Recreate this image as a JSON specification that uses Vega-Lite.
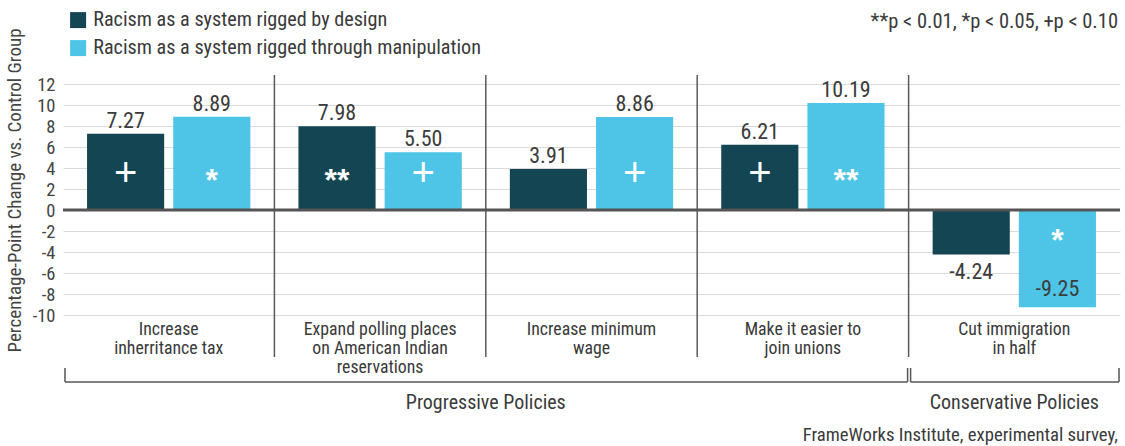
{
  "$schema": "https://vega.github.io/schema/vega-lite/v6.json",
  "width": 1057,
  "height": 231,
  "autosize": {"type": "none"},
  "padding": {"left": 63, "top": 84, "right": 5, "bottom": 131},
  "background": "white",
  "config": {"font": "Roboto Condensed, Liberation Sans Narrow, Roboto, sans-serif", "view": {"stroke": null}, "locale": {"number": {"decimal": ".", "thousands": ",", "grouping": [3], "currency": ["$", ""], "minus": "-"}}},
  "resolve": {"axis": {"x": "independent", "y": "independent"}},
  "datasets": {
    "bars": [
      {"policy": "Increase|inherritance tax", "series": "Racism as a system rigged by design", "value": 7.27, "sig": "+"},
      {"policy": "Increase|inherritance tax", "series": "Racism as a system rigged through manipulation", "value": 8.89, "sig": "*"},
      {"policy": "Expand polling places|on American Indian|reservations", "series": "Racism as a system rigged by design", "value": 7.98, "sig": "**"},
      {"policy": "Expand polling places|on American Indian|reservations", "series": "Racism as a system rigged through manipulation", "value": 5.50, "sig": "+"},
      {"policy": "Increase minimum|wage", "series": "Racism as a system rigged by design", "value": 3.91, "sig": ""},
      {"policy": "Increase minimum|wage", "series": "Racism as a system rigged through manipulation", "value": 8.86, "sig": "+"},
      {"policy": "Make it easier to|join unions", "series": "Racism as a system rigged by design", "value": 6.21, "sig": "+"},
      {"policy": "Make it easier to|join unions", "series": "Racism as a system rigged through manipulation", "value": 10.19, "sig": "**"},
      {"policy": "Cut immigration|in half", "series": "Racism as a system rigged by design", "value": -4.24, "sig": ""},
      {"policy": "Cut immigration|in half", "series": "Racism as a system rigged through manipulation", "value": -9.25, "sig": "*"}
    ],
    "seps": [
      {"policy": "Expand polling places|on American Indian|reservations"},
      {"policy": "Increase minimum|wage"},
      {"policy": "Make it easier to|join unions"},
      {"policy": "Cut immigration|in half"}
    ],
    "groups": [
      {"group": "Progressive Policies", "first": "Increase|inherritance tax", "last": "Make it easier to|join unions"},
      {"group": "Conservative Policies", "first": "Cut immigration|in half", "last": "Cut immigration|in half"}
    ],
    "notes": [
      {"policy": "Cut immigration|in half", "note": "**p < 0.01, *p < 0.05, +p < 0.10", "source": "FrameWorks Institute, experimental survey,"}
    ],
    "glabels": [
      {"policy": "Increase minimum|wage", "label": "Progressive Policies"}
    ],
    "glabels2": [
      {"policy": "Cut immigration|in half", "label": "Conservative Policies"}
    ]
  },
  "layer": [
    {
      "data": {"name": "seps"},
      "mark": {"type": "rule", "color": "#5a5a5a", "strokeWidth": 1.5},
      "encoding": {
        "x": {"field": "policy", "type": "nominal", "bandPosition": 0, "scale": {"domain": ["Increase|inherritance tax", "Expand polling places|on American Indian|reservations", "Increase minimum|wage", "Make it easier to|join unions", "Cut immigration|in half"], "paddingInner": 0, "paddingOuter": 0}, "axis": null},
        "y": {"datum": 12.86, "type": "quantitative", "scale": {"domain": [-10, 12], "nice": false}, "axis": null},
        "y2": {"datum": -14}
      }
    },
    {
      "data": {"name": "bars"},
      "mark": {"type": "bar"},
      "encoding": {
        "x": {"field": "policy", "type": "nominal", "scale": {"domain": ["Increase|inherritance tax", "Expand polling places|on American Indian|reservations", "Increase minimum|wage", "Make it easier to|join unions", "Cut immigration|in half"], "paddingInner": 0, "paddingOuter": 0},
          "axis": {"orient": "bottom", "labelExpr": "split(datum.label, '|')", "labelAngle": 0, "labelFontSize": 17.8, "labelLineHeight": 19, "labelColor": "#3a3a3a", "ticks": false, "domain": false, "title": null, "labelPadding": 5, "labelBaseline": "top", "grid": false, "labelLimit": 0}},
        "xOffset": {"field": "series", "type": "nominal", "scale": {"paddingInner": 0.105, "paddingOuter": 0.279}},
        "y": {"field": "value", "type": "quantitative", "stack": null, "scale": {"domain": [-10, 12], "nice": false},
          "axis": {"values": [-10, -8, -6, -4, -2, 0, 2, 4, 6, 8, 10, 12], "labelFontSize": 18.5, "labelColor": "#444444", "ticks": false, "domain": false, "grid": true, "gridColor": "#dadada", "gridWidth": 1, "labelPadding": 8, "title": "Percentage-Point Change vs. Control Group", "titleFontSize": 19, "titleFontWeight": "normal", "titleColor": "#444444", "titlePadding": 8, "titleY": 106}},
        "color": {"field": "series", "type": "nominal",
          "scale": {"domain": ["Racism as a system rigged by design", "Racism as a system rigged through manipulation"], "range": ["#134552", "#4ec4e6"]},
          "legend": {"orient": "none", "legendX": 5, "legendY": -74, "title": null, "symbolType": "square", "symbolSize": 256, "symbolStrokeWidth": 0, "labelFontSize": 20.2, "labelColor": "#3a3a3a", "labelOffset": 5, "rowPadding": 7, "labelLimit": 0}}
      }
    },
    {
      "data": {"values": [{}]},
      "mark": {"type": "rule", "color": "#555555", "strokeWidth": 3},
      "encoding": {
        "y": {"datum": 0, "type": "quantitative", "scale": {"domain": [-10, 12], "nice": false}, "axis": null}
      }
    },
    {
      "data": {"name": "bars"},
      "transform": [{"filter": "datum.value > 0"}],
      "mark": {"type": "text", "fontSize": 22, "color": "#3c3c3c", "baseline": "alphabetic", "dy": -6},
      "encoding": {
        "x": {"field": "policy", "type": "nominal", "scale": {"domain": ["Increase|inherritance tax", "Expand polling places|on American Indian|reservations", "Increase minimum|wage", "Make it easier to|join unions", "Cut immigration|in half"], "paddingInner": 0, "paddingOuter": 0}, "axis": null},
        "xOffset": {"field": "series", "type": "nominal", "scale": {"paddingInner": 0.105, "paddingOuter": 0.279}},
        "y": {"field": "value", "type": "quantitative", "stack": null, "scale": {"domain": [-10, 12], "nice": false}, "axis": null},
        "text": {"field": "value", "type": "quantitative", "format": ".2f"}
      }
    },
    {
      "data": {"name": "bars"},
      "transform": [{"filter": "datum.value < 0 && datum.value > -8"}],
      "mark": {"type": "text", "fontSize": 22, "color": "#3c3c3c", "baseline": "alphabetic", "dy": 24},
      "encoding": {
        "x": {"field": "policy", "type": "nominal", "scale": {"domain": ["Increase|inherritance tax", "Expand polling places|on American Indian|reservations", "Increase minimum|wage", "Make it easier to|join unions", "Cut immigration|in half"], "paddingInner": 0, "paddingOuter": 0}, "axis": null},
        "xOffset": {"field": "series", "type": "nominal", "scale": {"paddingInner": 0.105, "paddingOuter": 0.279}},
        "y": {"field": "value", "type": "quantitative", "stack": null, "scale": {"domain": [-10, 12], "nice": false}, "axis": null},
        "text": {"field": "value", "type": "quantitative", "format": ".2f"}
      }
    },
    {
      "data": {"name": "bars"},
      "transform": [{"filter": "datum.value < -8"}],
      "mark": {"type": "text", "fontSize": 22, "color": "#3c3c3c", "baseline": "alphabetic", "dy": -11},
      "encoding": {
        "x": {"field": "policy", "type": "nominal", "scale": {"domain": ["Increase|inherritance tax", "Expand polling places|on American Indian|reservations", "Increase minimum|wage", "Make it easier to|join unions", "Cut immigration|in half"], "paddingInner": 0, "paddingOuter": 0}, "axis": null},
        "xOffset": {"field": "series", "type": "nominal", "scale": {"paddingInner": 0.105, "paddingOuter": 0.279}},
        "y": {"field": "value", "type": "quantitative", "stack": null, "scale": {"domain": [-10, 12], "nice": false}, "axis": null},
        "text": {"field": "value", "type": "quantitative", "format": ".2f"}
      }
    },
    {
      "data": {"name": "bars"},
      "transform": [{"filter": "datum.sig == '+'"}],
      "mark": {"type": "text", "font": "Liberation Sans, Arial, sans-serif", "fontSize": 40, "color": "white", "baseline": "alphabetic", "dy": 14},
      "encoding": {
        "x": {"field": "policy", "type": "nominal", "scale": {"domain": ["Increase|inherritance tax", "Expand polling places|on American Indian|reservations", "Increase minimum|wage", "Make it easier to|join unions", "Cut immigration|in half"], "paddingInner": 0, "paddingOuter": 0}, "axis": null},
        "xOffset": {"field": "series", "type": "nominal", "scale": {"paddingInner": 0.105, "paddingOuter": 0.279}},
        "y": {"datum": 3.6, "type": "quantitative", "scale": {"domain": [-10, 12], "nice": false}, "axis": null},
        "text": {"field": "sig", "type": "nominal"}
      }
    },
    {
      "data": {"name": "bars"},
      "transform": [{"filter": "(datum.sig == '*' || datum.sig == '**') && datum.value > 0"}],
      "mark": {"type": "text", "font": "Liberation Sans, Arial, sans-serif", "fontSize": 32, "fontWeight": "bold", "color": "white", "baseline": "alphabetic", "dy": 19},
      "encoding": {
        "x": {"field": "policy", "type": "nominal", "scale": {"domain": ["Increase|inherritance tax", "Expand polling places|on American Indian|reservations", "Increase minimum|wage", "Make it easier to|join unions", "Cut immigration|in half"], "paddingInner": 0, "paddingOuter": 0}, "axis": null},
        "xOffset": {"field": "series", "type": "nominal", "scale": {"paddingInner": 0.105, "paddingOuter": 0.279}},
        "y": {"datum": 3.6, "type": "quantitative", "scale": {"domain": [-10, 12], "nice": false}, "axis": null},
        "text": {"field": "sig", "type": "nominal"}
      }
    },
    {
      "data": {"name": "bars"},
      "transform": [{"filter": "datum.sig == '*' && datum.value < 0"}],
      "mark": {"type": "text", "font": "Liberation Sans, Arial, sans-serif", "fontSize": 32, "fontWeight": "bold", "color": "white", "baseline": "alphabetic", "dy": 19},
      "encoding": {
        "x": {"field": "policy", "type": "nominal", "scale": {"domain": ["Increase|inherritance tax", "Expand polling places|on American Indian|reservations", "Increase minimum|wage", "Make it easier to|join unions", "Cut immigration|in half"], "paddingInner": 0, "paddingOuter": 0}, "axis": null},
        "xOffset": {"field": "series", "type": "nominal", "scale": {"paddingInner": 0.105, "paddingOuter": 0.279}},
        "y": {"datum": -2.1, "type": "quantitative", "scale": {"domain": [-10, 12], "nice": false}, "axis": null},
        "text": {"field": "sig", "type": "nominal"}
      }
    },
    {
      "data": {"name": "groups"},
      "mark": {"type": "rule", "color": "#555555", "strokeWidth": 1.5, "xOffset": 2, "x2Offset": -1},
      "encoding": {
        "x": {"field": "first", "type": "nominal", "bandPosition": 0, "scale": {"domain": ["Increase|inherritance tax", "Expand polling places|on American Indian|reservations", "Increase minimum|wage", "Make it easier to|join unions", "Cut immigration|in half"], "paddingInner": 0, "paddingOuter": 0}, "axis": null},
        "x2": {"field": "last", "bandPosition": 1},
        "y": {"datum": -16.38, "type": "quantitative", "scale": {"domain": [-10, 12], "nice": false}, "axis": null}
      }
    },
    {
      "data": {"name": "groups"},
      "mark": {"type": "rule", "color": "#555555", "strokeWidth": 1.5, "xOffset": 2},
      "encoding": {
        "x": {"field": "first", "type": "nominal", "bandPosition": 0, "scale": {"domain": ["Increase|inherritance tax", "Expand polling places|on American Indian|reservations", "Increase minimum|wage", "Make it easier to|join unions", "Cut immigration|in half"], "paddingInner": 0, "paddingOuter": 0}, "axis": null},
        "y": {"datum": -15.05, "type": "quantitative", "scale": {"domain": [-10, 12], "nice": false}, "axis": null},
        "y2": {"datum": -16.38}
      }
    },
    {
      "data": {"name": "groups"},
      "mark": {"type": "rule", "color": "#555555", "strokeWidth": 1.5, "xOffset": -1},
      "encoding": {
        "x": {"field": "last", "type": "nominal", "bandPosition": 1, "scale": {"domain": ["Increase|inherritance tax", "Expand polling places|on American Indian|reservations", "Increase minimum|wage", "Make it easier to|join unions", "Cut immigration|in half"], "paddingInner": 0, "paddingOuter": 0}, "axis": null},
        "y": {"datum": -15.05, "type": "quantitative", "scale": {"domain": [-10, 12], "nice": false}, "axis": null},
        "y2": {"datum": -16.38}
      }
    },
    {
      "data": {"name": "glabels"},
      "mark": {"type": "text", "fontSize": 20, "color": "#3a3a3a", "baseline": "middle", "align": "center"},
      "encoding": {
        "x": {"field": "policy", "type": "nominal", "bandPosition": 0, "scale": {"domain": ["Increase|inherritance tax", "Expand polling places|on American Indian|reservations", "Increase minimum|wage", "Make it easier to|join unions", "Cut immigration|in half"], "paddingInner": 0, "paddingOuter": 0}, "axis": null},
        "y": {"datum": -18.38, "type": "quantitative", "scale": {"domain": [-10, 12], "nice": false}, "axis": null},
        "text": {"field": "label", "type": "nominal"}
      }
    },
    {
      "data": {"name": "glabels2"},
      "mark": {"type": "text", "fontSize": 20, "color": "#3a3a3a", "baseline": "middle", "align": "center"},
      "encoding": {
        "x": {"field": "policy", "type": "nominal", "bandPosition": 0.5, "scale": {"domain": ["Increase|inherritance tax", "Expand polling places|on American Indian|reservations", "Increase minimum|wage", "Make it easier to|join unions", "Cut immigration|in half"], "paddingInner": 0, "paddingOuter": 0}, "axis": null},
        "y": {"datum": -18.38, "type": "quantitative", "scale": {"domain": [-10, 12], "nice": false}, "axis": null},
        "text": {"field": "label", "type": "nominal"}
      }
    },
    {
      "data": {"name": "notes"},
      "mark": {"type": "text", "fontSize": 20.5, "color": "#3a3a3a", "baseline": "middle", "align": "right", "dx": -2},
      "encoding": {
        "x": {"field": "policy", "type": "nominal", "bandPosition": 1, "scale": {"domain": ["Increase|inherritance tax", "Expand polling places|on American Indian|reservations", "Increase minimum|wage", "Make it easier to|join unions", "Cut immigration|in half"], "paddingInner": 0, "paddingOuter": 0}, "axis": null},
        "y": {"datum": 17.9, "type": "quantitative", "scale": {"domain": [-10, 12], "nice": false}, "axis": null},
        "text": {"field": "note", "type": "nominal"}
      }
    },
    {
      "data": {"name": "notes"},
      "mark": {"type": "text", "fontSize": 18.7, "color": "#3a3a3a", "baseline": "middle", "align": "right", "dx": -2},
      "encoding": {
        "x": {"field": "policy", "type": "nominal", "bandPosition": 1, "scale": {"domain": ["Increase|inherritance tax", "Expand polling places|on American Indian|reservations", "Increase minimum|wage", "Make it easier to|join unions", "Cut immigration|in half"], "paddingInner": 0, "paddingOuter": 0}, "axis": null},
        "y": {"datum": -21.45, "type": "quantitative", "scale": {"domain": [-10, 12], "nice": false}, "axis": null},
        "text": {"field": "source", "type": "nominal"}
      }
    }
  ]
}
